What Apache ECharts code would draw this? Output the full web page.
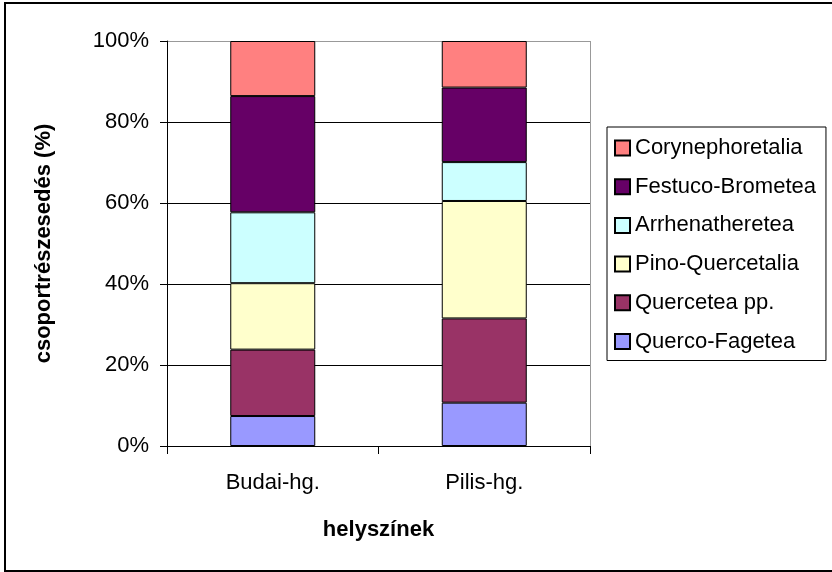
<!DOCTYPE html>
<html>
<head>
<meta charset="utf-8">
<script src="https://cdn.jsdelivr.net/npm/echarts@6/dist/echarts.min.js"></script>
<style>
  html, body { margin: 0; padding: 0; background: #fff; }
  #chart { width: 832px; height: 572px; }
</style>
</head>
<body>
<div id="chart"></div>
<script>
// helyszínek
var categories = ['Budai-hg.', 'Pilis-hg.'];

// csoportrészesedés (%), alulról felfelé
var quercoFagetea = [7.4, 10.7];
var querceteaPp = [16.4, 20.8];
var pinoQuercetalia = [16.4, 29.0];
var arrhenatheretea = [17.5, 9.6];
var festucoBrometea = [28.7, 18.4];
var corynephoretalia = [13.6, 11.5];

var yTicks = [0, 20, 40, 60, 80, 100];

var font = "'Liberation Sans', Arial, sans-serif";

function bar(name, data, color) {
  return {
    name: name,
    type: 'bar',
    stack: 'sum',
    barWidth: 85,
    data: data,
    itemStyle: { color: color, borderColor: '#000', borderWidth: 1 }
  };
}

var chart = echarts.init(document.getElementById('chart'));
chart.setOption({
  animation: false,
  backgroundColor: '#fff',
  textStyle: { fontFamily: font, color: '#000' },
  grid: { left: 167, right: 242, top: 41, bottom: 126 },
  legend: {
    orient: 'vertical',
    left: 607,
    top: 127,
    padding: [10, 10, 8, 7],
    itemGap: 16.7,
    itemWidth: 15,
    itemHeight: 15,
    icon: 'rect',
    borderColor: '#000',
    borderWidth: 1,
    textStyle: { fontFamily: font, fontSize: 22, color: '#000' },
    data: ['Corynephoretalia', 'Festuco-Brometea', 'Arrhenatheretea',
           'Pino-Quercetalia', 'Quercetea pp.', 'Querco-Fagetea']
  },
  xAxis: {
    type: 'category',
    data: categories,
    name: 'helyszínek',
    nameLocation: 'middle',
    nameGap: 73,
    nameTextStyle: { fontFamily: font, fontSize: 22, fontWeight: 'bold', color: '#000' },
    axisLine: { lineStyle: { color: '#000', width: 1 } },
    axisTick: { show: true, length: 8, lineStyle: { color: '#000' } },
    axisLabel: { fontFamily: font, fontSize: 22, color: '#000', margin: 26 }
  },
  yAxis: {
    type: 'value',
    min: yTicks[0],
    max: yTicks[yTicks.length - 1],
    interval: 20,
    name: 'csoportrészesedés (%)',
    nameLocation: 'middle',
    nameGap: 112,
    nameTextStyle: { fontFamily: font, fontSize: 22, fontWeight: 'bold', color: '#000' },
    axisLine: { show: true, lineStyle: { color: '#000', width: 1 } },
    axisTick: { show: true, length: 7, lineStyle: { color: '#000' } },
    axisLabel: { fontFamily: font, fontSize: 22, color: '#000', margin: 18, formatter: '{value}%' },
    splitLine: { show: true, lineStyle: { color: ['#000', '#000', '#000', '#000', '#000', '#999'], width: 1 } }
  },
  graphic: [
    // jobb oldali keret a rajzterületen
    { type: 'line', shape: { x1: 590.5, y1: 41, x2: 590.5, y2: 446 }, style: { stroke: '#999', lineWidth: 1 }, z: 0 },
    // külső keret
    { type: 'rect', shape: { x: 5, y: 3, width: 840, height: 568 }, style: { fill: null, stroke: '#000', lineWidth: 2 }, z: 100 }
  ],
  series: [
    bar('Querco-Fagetea', quercoFagetea, '#9999FF'),
    bar('Quercetea pp.', querceteaPp, '#993366'),
    bar('Pino-Quercetalia', pinoQuercetalia, '#FFFFCC'),
    bar('Arrhenatheretea', arrhenatheretea, '#CCFFFF'),
    bar('Festuco-Brometea', festucoBrometea, '#660066'),
    bar('Corynephoretalia', corynephoretalia, '#FF8080')
  ]
});
</script>
</body>
</html>
